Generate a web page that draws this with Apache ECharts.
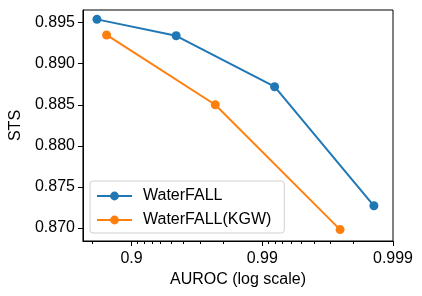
<!DOCTYPE html>
<html>
<head>
<meta charset="utf-8">
<script src="https://cdn.jsdelivr.net/npm/echarts@6/dist/echarts.min.js"></script>
<style>
html,body{margin:0;padding:0;background:#fff;}
#chart{width:422px;height:296px;}
</style>
</head>
<body>
<div id="chart"></div>
<script>
// Data
const seriesNames = ['WaterFALL', 'WaterFALL(KGW)'];
const aurocWaterfall = [0.816, 0.9544, 0.99195, 0.9986];
const stsWaterfall = [0.8954, 0.8934, 0.8872, 0.8727];
const aurocKGW = [0.8447, 0.9771, 0.99746];
const stsKGW = [0.8935, 0.8850, 0.8698];
const xMajorTicks = [0.9, 0.99, 0.999];
const xMinorTicks = [0.8, 0.91, 0.92, 0.93, 0.94, 0.95, 0.96, 0.97, 0.98,
                     0.991, 0.992, 0.993, 0.994, 0.995, 0.996, 0.997, 0.998];
const yTicks = [0.870, 0.875, 0.880, 0.885, 0.890, 0.895];

// the x axis is a log scale of (1 - AUROC), reversed
const toErr = a => 1 - a;
const fmtAuroc = v => String(parseFloat((1 - v).toFixed(5)));
const FONT = 'Liberation Sans, Arial, Helvetica, sans-serif';

const chart = echarts.init(document.getElementById('chart'), null, {renderer: 'canvas'});
const xCommon = {
  type: 'log', logBase: 10, inverse: true,
  min: 0.001, max: 0.2355,
  gridIndex: 0, position: 'bottom',
  splitLine: {show: false}, minorTick: {show: false}, minorSplitLine: {show: false}
};
chart.setOption({
  animation: false,
  grid: {left: 82, right: 29, top: 10, bottom: 55, show: true, borderColor: '#000', borderWidth: 1, backgroundColor: 'transparent'},
  legend: {
    left: 90, top: 181, orient: 'vertical',
    data: seriesNames,
    itemWidth: 35, itemHeight: 11, itemGap: 8,
    padding: [7, 13, 5, 6],
    borderColor: '#d0d0d0', borderWidth: 1, borderRadius: 3,
    backgroundColor: 'rgba(255,255,255,0.8)',
    lineStyle: {width: 2},
    textStyle: {fontFamily: FONT, fontSize: 16, color: '#000', padding: [0, 0, 0, 6]}
  },
  xAxis: [
    Object.assign({}, xCommon, {
      name: 'AUROC (log scale)', nameLocation: 'middle', nameGap: 30,
      nameTextStyle: {fontFamily: FONT, fontSize: 16, color: '#000'},
      axisLine: {show: true, lineStyle: {color: '#000', width: 1}},
      axisTick: {show: true, length: 5, lineStyle: {color: '#000', width: 1}, customValues: xMajorTicks.map(toErr)},
      axisLabel: {show: true, fontFamily: FONT, fontSize: 16, color: '#000', margin: 10,
                  customValues: xMajorTicks.map(toErr), formatter: fmtAuroc}
    }),
    Object.assign({}, xCommon, {
      axisLine: {show: false},
      axisTick: {show: true, length: 3, lineStyle: {color: '#000', width: 1}, customValues: xMinorTicks.map(toErr)},
      axisLabel: {show: false}
    })
  ],
  yAxis: {
    type: 'value', min: 0.86841, max: 0.89654,
    name: 'STS', nameLocation: 'middle', nameGap: 53, nameRotate: 90,
    nameTextStyle: {fontFamily: FONT, fontSize: 16, color: '#000'},
    splitLine: {show: false},
    axisLine: {show: true, lineStyle: {color: '#000', width: 1}},
    axisTick: {show: true, length: 5, lineStyle: {color: '#000', width: 1}, customValues: yTicks},
    axisLabel: {fontFamily: FONT, fontSize: 16, color: '#000', margin: 8,
                customValues: yTicks, formatter: v => v.toFixed(3)}
  },
  series: [
    {
      name: seriesNames[0], type: 'line', xAxisIndex: 0,
      data: aurocWaterfall.map((a, i) => [toErr(a), stsWaterfall[i]]),
      symbol: 'circle', symbolSize: 9, showSymbol: true,
      lineStyle: {color: '#1f77b4', width: 2}, itemStyle: {color: '#1f77b4'}
    },
    {
      name: seriesNames[1], type: 'line', xAxisIndex: 0,
      data: aurocKGW.map((a, i) => [toErr(a), stsKGW[i]]),
      symbol: 'circle', symbolSize: 9, showSymbol: true,
      lineStyle: {color: '#ff7f0e', width: 2}, itemStyle: {color: '#ff7f0e'}
    }
  ]
});
</script>
</body>
</html>
